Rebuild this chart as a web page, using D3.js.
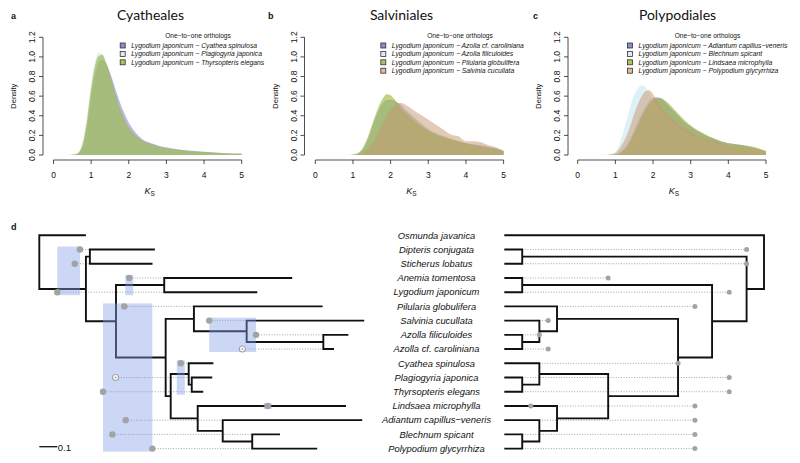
<!DOCTYPE html>
<html><head><meta charset="utf-8">
<script src="https://cdn.jsdelivr.net/npm/d3@7"></script>
<style>body{margin:0;background:#fff} text{font-family:"Liberation Sans",Arial,sans-serif;fill:#111}</style>
</head><body><svg id="c" width="800" height="463"></svg>
<script>
// ---------------- DATA ----------------
const ksGrid = [0,0.4,0.6,0.7,0.8,0.9,1.0,1.1,1.2,1.3,1.4,1.5,1.6,1.7,1.8,1.9,2.0,2.1,2.2,2.3,2.4,2.6,2.8,3.0,3.2,3.4,3.6,3.8,4.0,4.2,4.4,4.6,4.8,5.0];
const xTicks = [0,1,2,3,4,5];
const yTicks = [0,0.2,0.4,0.6,0.8,1.0,1.2];
const panelTitles = ["Cyatheales","Salviniales","Polypodiales"];
const panelLetters = ["a","b","c"];
const legendTitle = "One\u2212to\u2212one orthologs";
const legendA = ["Lygodium japonicum \u2212 Cyathea spinulosa","Lygodium japonicum \u2212 Plagiogyria japonica","Lygodium japonicum \u2212 Thyrsopteris elegans"];
const legendB = ["Lygodium japonicum \u2212 Azolla cf. caroliniana","Lygodium japonicum \u2212 Azolla filiculoides","Lygodium japonicum \u2212 Pilularia globulifera","Lygodium japonicum \u2212 Salvinia cucullata"];
const legendC = ["Lygodium japonicum \u2212 Adiantum capillus\u2212veneris","Lygodium japonicum \u2212 Blechnum spicant","Lygodium japonicum \u2212 Lindsaea microphylla","Lygodium japonicum \u2212 Polypodium glycyrrhiza"];

const densA_cyathea = [0,0,0.005,0.03,0.12,0.32,0.6,0.82,0.94,0.97,0.93,0.84,0.73,0.61,0.5,0.41,0.33,0.27,0.22,0.18,0.15,0.12,0.095,0.078,0.064,0.054,0.046,0.039,0.033,0.028,0.023,0.019,0.016,0.014];
const densA_plagio  = [0,0,0.01,0.05,0.18,0.42,0.72,0.94,1.04,1.03,0.92,0.79,0.65,0.52,0.41,0.33,0.26,0.21,0.18,0.15,0.13,0.1,0.08,0.066,0.055,0.047,0.04,0.034,0.029,0.024,0.02,0.017,0.014,0.012];
const densA_thyrso  = [0,0,0.01,0.04,0.15,0.38,0.68,0.9,1.01,1.02,0.94,0.82,0.68,0.55,0.44,0.35,0.28,0.23,0.19,0.16,0.14,0.11,0.085,0.07,0.058,0.05,0.042,0.036,0.03,0.025,0.02,0.017,0.014,0.012];

const densB_azcar   = [0,0,0,0,0,0,0.003,0.01,0.03,0.08,0.16,0.27,0.38,0.47,0.53,0.56,0.56,0.55,0.53,0.5,0.46,0.39,0.32,0.26,0.22,0.19,0.16,0.14,0.12,0.11,0.1,0.08,0.07,0.04];
const densB_azfil   = [0,0,0,0,0,0,0.003,0.01,0.03,0.07,0.15,0.26,0.37,0.46,0.52,0.55,0.55,0.54,0.52,0.49,0.46,0.39,0.33,0.27,0.23,0.2,0.17,0.14,0.12,0.11,0.1,0.09,0.07,0.04];
const densB_pilul   = [0,0,0,0,0,0,0.004,0.015,0.04,0.1,0.19,0.3,0.41,0.51,0.58,0.62,0.61,0.57,0.52,0.47,0.43,0.36,0.3,0.25,0.21,0.18,0.16,0.14,0.12,0.1,0.09,0.08,0.06,0.04];
const densB_salv    = [0,0,0,0,0,0,0,0.003,0.01,0.03,0.06,0.11,0.17,0.25,0.33,0.4,0.46,0.5,0.53,0.53,0.51,0.46,0.41,0.36,0.31,0.26,0.21,0.19,0.14,0.14,0.13,0.1,0.08,0.04];

const densC_adiant  = [0,0,0,0,0,0.002,0.005,0.02,0.05,0.1,0.17,0.25,0.34,0.42,0.49,0.55,0.58,0.59,0.58,0.55,0.51,0.43,0.35,0.29,0.24,0.2,0.17,0.14,0.12,0.11,0.1,0.08,0.06,0.04];
const densC_blech   = [0,0,0,0,0.003,0.01,0.03,0.1,0.22,0.36,0.5,0.61,0.68,0.71,0.69,0.63,0.56,0.5,0.45,0.4,0.36,0.3,0.25,0.21,0.18,0.15,0.13,0.11,0.1,0.09,0.08,0.07,0.05,0.03];
const densC_linds   = [0,0,0,0,0,0.002,0.005,0.015,0.04,0.08,0.14,0.22,0.3,0.39,0.46,0.52,0.56,0.58,0.58,0.56,0.53,0.45,0.37,0.3,0.25,0.21,0.17,0.14,0.12,0.11,0.1,0.09,0.07,0.04];
const densC_polyp   = [0,0,0,0,0.002,0.008,0.02,0.06,0.12,0.2,0.3,0.42,0.52,0.6,0.65,0.66,0.62,0.56,0.5,0.45,0.41,0.34,0.28,0.23,0.19,0.16,0.14,0.12,0.1,0.09,0.08,0.07,0.05,0.03];

// phylogram (substitutions/site) and chronogram (relative age)
const phylogram = "(Osmunda javanica:0.259,((Dipteris conjugata:0.361,Sticherus lobatus:0.348):0.022,((Anemia tomentosa:0.711,Lygodium japonicum:0.517):0.268,((Pilularia globulifera:0.715,(Salvinia cucullata:0.653,(Azolla filiculoides:0.139,Azolla cf. caroliniana:0.059):0.426):0.293):0.157,((Cyathea spinulosa:0.137,(Plagiogyria japonica:0.114,Thyrsopteris elegans:0.064):0.017):0.100,(Lindsaea microphylla:0.824,(Adiantum capillus\u2212veneris:0.775,(Blechnum spicant:0.154,Polypodium glycyrrhiza:0.361):0.164):0.139):0.150):0.028):0.276):0.167):0.259);";
const chronogram = "(Osmunda javanica:1.0,((Dipteris conjugata:0.069,Sticherus lobatus:0.069):0.864,((Anemia tomentosa:0.069,Lygodium japonicum:0.069):0.731,((Pilularia globulifera:0.203,(Salvinia cucullata:0.135,(Azolla filiculoides:0.069,Azolla cf. caroliniana:0.069):0.066):0.068):0.466,((Cyathea spinulosa:0.135,(Plagiogyria japonica:0.069,Thyrsopteris elegans:0.069):0.066):0.265,(Lindsaea microphylla:0.203,(Adiantum capillus\u2212veneris:0.135,(Blechnum spicant:0.069,Polypodium glycyrrhiza:0.069):0.066):0.068):0.197):0.269):0.131):0.133):0.067);";

const leftDots = [
 {taxon:"Dipteris conjugata",pos:0.226},{taxon:"Sticherus lobatus",pos:0.197},
 {taxon:"Anemia tomentosa",pos:0.50},{taxon:"Lygodium japonicum",pos:0.10},
 {taxon:"Pilularia globulifera",pos:0.472},{taxon:"Salvinia cucullata",pos:0.944},
 {taxon:"Azolla filiculoides",pos:1.204},{taxon:"Azolla cf. caroliniana",pos:1.128,open:true},
 {taxon:"Cyathea spinulosa",pos:0.786},{taxon:"Plagiogyria japonica",pos:0.424,open:true},
 {taxon:"Thyrsopteris elegans",pos:0.354},{taxon:"Lindsaea microphylla",pos:1.269},
 {taxon:"Adiantum capillus\u2212veneris",pos:0.48},{taxon:"Blechnum spicant",pos:0.406},
 {taxon:"Polypodium glycyrrhiza",pos:0.628}];
const rightDots = [
 {taxon:"Dipteris conjugata",age:0.933},{taxon:"Sticherus lobatus",age:0.933},
 {taxon:"Anemia tomentosa",age:0.40},{taxon:"Lygodium japonicum",age:0.866},
 {taxon:"Pilularia globulifera",age:0.734},{taxon:"Salvinia cucullata",age:0.169},
 {taxon:"Azolla filiculoides",age:0.135},{taxon:"Azolla cf. caroliniana",age:0.169},
 {taxon:"Cyathea spinulosa",age:0.669},{taxon:"Plagiogyria japonica",age:0.866},
 {taxon:"Thyrsopteris elegans",age:0.866},{taxon:"Lindsaea microphylla",age:0.102},
 {taxon:"Lindsaea microphylla",age:0.734},{taxon:"Adiantum capillus\u2212veneris",age:0.734},
 {taxon:"Blechnum spicant",age:0.734},{taxon:"Polypodium glycyrrhiza",age:0.734}];
const hpdGroups = [
 {from:"Dipteris conjugata",to:"Lygodium japonicum",members:["Dipteris conjugata","Sticherus lobatus","Lygodium japonicum"]},
 {from:"Anemia tomentosa",to:"Lygodium japonicum",members:["Anemia tomentosa"]},
 {from:"Pilularia globulifera",to:"Polypodium glycyrrhiza",members:["Pilularia globulifera","Plagiogyria japonica","Thyrsopteris elegans","Adiantum capillus\u2212veneris","Blechnum spicant","Polypodium glycyrrhiza"]},
 {from:"Salvinia cucullata",to:"Azolla cf. caroliniana",members:["Salvinia cucullata","Azolla filiculoides","Azolla cf. caroliniana"]},
 {from:"Cyathea spinulosa",to:"Thyrsopteris elegans",members:["Cyathea spinulosa"]},
 {from:"Lindsaea microphylla",to:"Lindsaea microphylla",members:["Lindsaea microphylla"]}];
const scaleBarValue = 0.1;

// ---------------- DRAW ----------------
const svg = d3.select("#c");
const seriesFill = ["rgba(100,100,190,0.45)","rgba(190,228,240,0.5)","rgba(150,175,45,0.58)","rgba(200,150,105,0.5)"];
const legendFill = ["rgba(100,100,190,0.75)","rgba(215,235,242,0.9)","rgba(165,185,80,0.9)","rgba(220,180,140,0.9)"];

const panels = [
 {series:[densA_cyathea,densA_plagio,densA_thyrso], legend:legendA, x0:53.5,x1:241.7,yAx:43,titleX:150.5,letterX:11,densX:16,legBox:122.7,legTitleX:198},
 {series:[densB_azcar,densB_azfil,densB_pilul,densB_salv], legend:legendB, x0:315.3,x1:503.6,yAx:304.5,titleX:401.5,letterX:268,densX:278,legBox:383.3,legTitleX:460},
 {series:[densC_adiant,densC_blech,densC_linds,densC_polyp], legend:legendC, x0:577.7,x1:766,yAx:568,titleX:677.5,letterX:533,densX:541,legBox:630,legTitleX:707.5}
];
const y = d3.scaleLinear().domain([0,1.2]).range([155,37.3]);
panels.forEach((p,pi)=>{
  const g = svg.append("g");
  const x = d3.scaleLinear().domain([0,5]).range([p.x0,p.x1]);
  const area = d3.area().x((d,i)=>x(ksGrid[i])).y0(y(0)).y1(d=>y(d)).curve(d3.curveMonotoneX);
  p.series.forEach((s,si)=>{
    g.append("path").attr("d",area(s)).attr("fill",seriesFill[si]).attr("stroke","none");
  });
  g.append("line").attr("x1",x(0)).attr("x2",x(5)).attr("y1",160).attr("y2",160).attr("stroke","#222").attr("stroke-width",0.8);
  xTicks.forEach(t=>{
    g.append("line").attr("x1",x(t)).attr("x2",x(t)).attr("y1",160).attr("y2",164).attr("stroke","#222").attr("stroke-width",0.8);
    g.append("text").attr("x",x(t)).attr("y",178).attr("text-anchor","middle").attr("font-size",8.5).text(t);
  });
  g.append("line").attr("x1",p.yAx).attr("x2",p.yAx).attr("y1",y(0)).attr("y2",y(1.2)).attr("stroke","#222").attr("stroke-width",0.8);
  yTicks.forEach(t=>{
    g.append("line").attr("x1",p.yAx-4).attr("x2",p.yAx).attr("y1",y(t)).attr("y2",y(t)).attr("stroke","#222").attr("stroke-width",0.8);
    g.append("text").attr("transform",`translate(${p.yAx-8},${y(t)}) rotate(-90)`).attr("text-anchor","middle").attr("font-size",8.5).text(t.toFixed(1));
  });
  g.append("text").attr("transform",`translate(${p.densX},${y(0.6)}) rotate(-90)`).attr("text-anchor","middle").attr("font-size",7.5).text("Density");
  const kl = g.append("text").attr("x",(p.x0+p.x1)/2 + 2).attr("y",194).attr("text-anchor","middle").attr("font-size",9);
  kl.append("tspan").attr("font-style","italic").text("K");
  kl.append("tspan").attr("font-size",6.5).attr("dy",2).text("S");
  g.append("text").attr("x",p.titleX).attr("y",20).attr("text-anchor","middle").attr("font-size",14).style("font-family","Lato, 'Open Sans', sans-serif").text(panelTitles[pi]);
  g.append("text").attr("x",p.letterX).attr("y",19).attr("font-size",9).attr("font-weight","bold").text(panelLetters[pi]);
  g.append("text").attr("x",p.legTitleX).attr("y",37.5).attr("text-anchor","middle").attr("font-size",6.6).text(legendTitle);
  p.legend.forEach((l,li)=>{
    const ly = 45.5 + li*8.4;
    g.append("rect").attr("x",p.legBox-2.5).attr("y",ly-2.5).attr("width",5).attr("height",5).attr("fill",legendFill[li]).attr("stroke","#333").attr("stroke-width",0.8);
    g.append("text").attr("x",p.legBox+8.5).attr("y",ly+2.4).attr("font-size",6.8).attr("font-style","italic").text(l);
  });
});

// ---------------- TREES ----------------
function parseNewick(a){
  const ancestors=[]; let tree={}; const tokens=a.split(/\s*(;|\(|\)|,|:)\s*/);
  for(let i=0;i<tokens.length;i++){const t=tokens[i];
    switch(t){
      case '(': {const sub={}; tree.children=[sub]; ancestors.push(tree); tree=sub; break;}
      case ',': {const sub={}; ancestors[ancestors.length-1].children.push(sub); tree=sub; break;}
      case ')': tree=ancestors.pop(); break;
      case ':': case ';': case '': break;
      default: {const prev=tokens[i-1]; if(prev===':') tree.length=parseFloat(t); else tree.name=t;}
    }
  }
  return tree;
}
const yRow = d3.scaleLinear().domain([0,15]).range([235.3,448.6]);
function build(nw){
  const root = d3.hierarchy(parseNewick(nw));
  root.eachBefore(n=>{ n.len = n.parent ? n.parent.len + (n.data.length||0) : 0; });
  root.leaves().forEach((l,i)=>{ l.row=i; l.yy=yRow(i); });
  root.eachAfter(n=>{ if(n.children) n.yy = d3.mean(n.children,c=>c.yy); });
  return root;
}
const L = build(phylogram), R = build(chronogram);
const xL = d3.scaleLinear().domain([0,1]).range([39.3,219.3]);
const xR = d3.scaleLinear().domain([0,1]).range([504.3,764]);
const rootAge = d3.max(R.leaves(),l=>l.len);
const leafL = new Map(L.leaves().map(l=>[l.data.name,l]));
const leafR = new Map(R.leaves().map(l=>[l.data.name,l]));

svg.append("text").attr("x",11).attr("y",230).attr("font-size",9).attr("font-weight","bold").text("d");

const dotCol = "#a3a3a3";
const gL = svg.append("g");
leftDots.forEach(d=>{
  const lf = leafL.get(d.taxon);
  gL.append("line").attr("x1",xL(d.pos)).attr("x2",xL(lf.parent.len)).attr("y1",lf.yy).attr("y2",lf.yy)
    .attr("stroke","#9a9a9a").attr("stroke-width",0.9).attr("stroke-dasharray","1,1.6");
});
L.descendants().filter(n=>n.children).forEach(n=>{
  const c1=n.children[0], c2=n.children[n.children.length-1];
  gL.append("path").attr("d",`M${xL(c1.len)},${c1.yy}H${xL(n.len)}V${c2.yy}H${xL(c2.len)}`)
    .attr("fill","none").attr("stroke","#111").attr("stroke-width",1.9).attr("stroke-linejoin","miter");
});
const dotPos = new Map(leftDots.map(d=>[d.taxon,d.pos]));
hpdGroups.forEach(gp=>{
  const xs = gp.members.map(m=>xL(dotPos.get(m)));
  let a=d3.min(xs), b=d3.max(xs);
  if(b-a<8){const m=(a+b)/2; a=m-4; b=m+4;}
  const y1=leafL.get(gp.from).yy-3, y2=leafL.get(gp.to).yy+3;
  gL.append("rect").attr("x",a).attr("y",y1).attr("width",b-a).attr("height",y2-y1).attr("fill","rgba(130,160,232,0.42)");
});
leftDots.forEach(d=>{
  const lf = leafL.get(d.taxon);
  if(d.open){
    gL.append("circle").attr("cx",xL(d.pos)).attr("cy",lf.yy).attr("r",3).attr("fill","#fff").attr("stroke",dotCol).attr("stroke-width",1.1);
    gL.append("circle").attr("cx",xL(d.pos)).attr("cy",lf.yy).attr("r",1).attr("fill",dotCol);
  } else {
    gL.append("circle").attr("cx",xL(d.pos)).attr("cy",lf.yy).attr("r",3.2).attr("fill",dotCol);
  }
});
svg.append("line").attr("x1",xL(0)).attr("x2",xL(scaleBarValue)).attr("y1",446.7).attr("y2",446.7).attr("stroke","#111").attr("stroke-width",1.3);
svg.append("text").attr("x",xL(scaleBarValue)+0.5).attr("y",450.5).attr("font-size",9.5).text(scaleBarValue);

L.leaves().forEach(l=>{
  svg.append("text").attr("x",436.5).attr("y",l.yy+3.3).attr("text-anchor","middle").attr("font-size",9.4).attr("font-style","italic").text(l.data.name);
});

const gR = svg.append("g");
const ax = n => xR(rootAge - n.len);
rightDots.forEach(d=>{
  const lf = leafR.get(d.taxon);
  gR.append("line").attr("x1",ax(lf.parent)).attr("x2",xR(d.age)).attr("y1",lf.yy).attr("y2",lf.yy)
    .attr("stroke","#9a9a9a").attr("stroke-width",0.9).attr("stroke-dasharray","1,1.6");
});
R.descendants().filter(n=>n.children).forEach(n=>{
  const c1=n.children[0], c2=n.children[n.children.length-1];
  gR.append("path").attr("d",`M${ax(c1)},${c1.yy}H${ax(n)}V${c2.yy}H${ax(c2)}`)
    .attr("fill","none").attr("stroke","#111").attr("stroke-width",1.9).attr("stroke-linejoin","miter");
});
rightDots.forEach(d=>{
  const lf = leafR.get(d.taxon);
  gR.append("circle").attr("cx",xR(d.age)).attr("cy",lf.yy).attr("r",2.5).attr("fill",dotCol);
});
</script></body></html>
